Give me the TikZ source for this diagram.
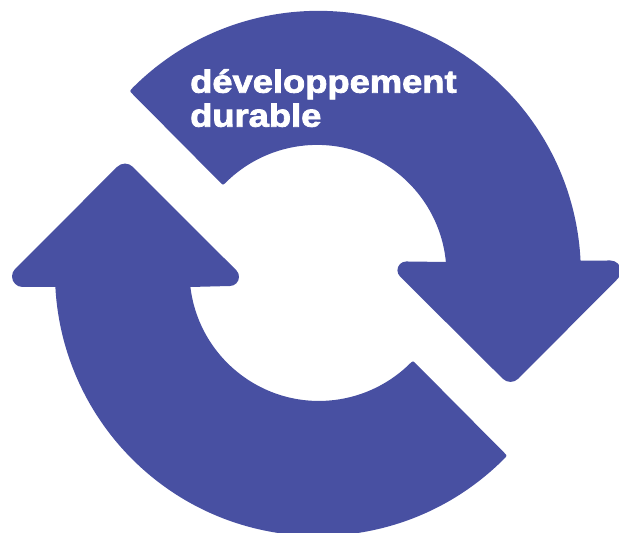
\documentclass[tikz,border=0pt]{standalone}
\usepackage{fontspec}
\newfontfamily\labfont[FakeStretch=1.135,FakeBold=2.5]{Liberation Sans Bold}
\definecolor{cyc}{RGB}{72,80,162}
\tikzset{cycarrow/.style={fill=cyc,draw=none},
labeltext/.style={text=white,align=left,inner sep=0pt,anchor=north west,font=\labfont\fontsize{32}{34}\selectfont}}
\begin{document}
\begin{tikzpicture}[x=1pt,y=1pt]
\useasboundingbox (0,0) rectangle (619,533);
\clip (0,0) rectangle (619,533);
\begin{scope}[shift={(318,260)}]
% top arrow
\fill[cycarrow] (-185.7,179.2) .. controls (136:262) .. (135:262)
  arc[start angle=135,end angle=2.8,radius=262.5pt]
  -- (292.4,12.5) arc[start angle=90,end angle=-45,radius=10.6pt]
  -- (200.3,-105.7) arc[start angle=-45,end angle=-135,radius=11pt]
  -- (82,-3.5) arc[start angle=-135,end angle=-270,radius=8.8pt]
  -- (127.9,11) arc[start angle=5.5,end angle=135.4,radius=129.5pt]
  .. controls (-94.8,87.8) .. (-98,90.8) -- cycle;
% bottom arrow
\fill[cycarrow] (186.4,-179.9) .. controls (-44:263) .. (-45:263)
  arc[start angle=-45,end angle=-177,radius=263pt]
  -- (-295.4,-14) arc[start angle=-90,end angle=-225,radius=10.6pt]
  -- (-200.8,106.2) arc[start angle=135,end angle=45,radius=11pt]
  -- (-81.7,2.7) arc[start angle=45,end angle=-90,radius=9.2pt]
  -- (-127.6,-14) arc[start angle=-173.1,end angle=-44.6,radius=129.5pt]
  .. controls (94.8,-87.8) .. (98,-90.8) -- cycle;
\end{scope}
\node[labeltext] (lab) at (190,464) {développement\\durable};
\end{tikzpicture}
\end{document}
